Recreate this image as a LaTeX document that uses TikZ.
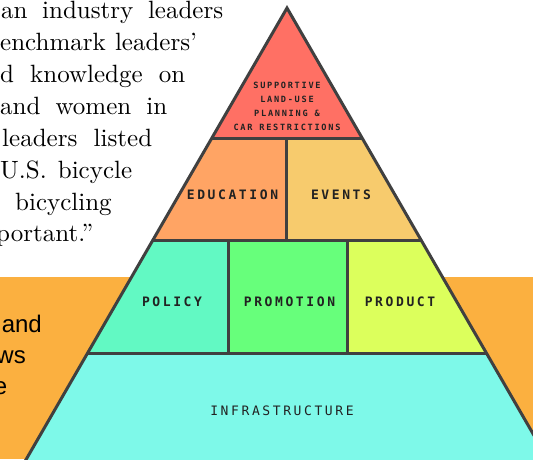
\documentclass[tikz,border=0pt]{standalone}
\usepackage{fontspec}
\usepackage{tikz}
\setsansfont{Liberation Sans}
\newfontfamily\quotefont{lmroman10-regular}[Extension=.otf]
\newfontfamily\tiermono[LetterSpace=20]{DejaVu Sans Mono}
\definecolor{bgorange}{HTML}{FBB040}
\definecolor{toptier}{HTML}{FF7064}
\definecolor{eduorange}{HTML}{FFA464}
\definecolor{eventyellow}{HTML}{F7CB6D}
\definecolor{policygreen}{HTML}{62F9C3}
\definecolor{promogreen}{HTML}{67FF7B}
\definecolor{productlime}{HTML}{DCFF5C}
\definecolor{infracyan}{HTML}{7EF9E9}
\definecolor{edgegray}{HTML}{404040}
\definecolor{labelgray}{HTML}{222222}

\begin{document}
\begin{tikzpicture}[x=1pt,y=-1pt]
    \tikzstyle{edge}=[draw=edgegray,line width=3pt,line join=miter]
    \tikzstyle{quote line}=[anchor=base west,inner sep=0pt,font=\quotefont\fontsize{25}{30}\selectfont]
    \tikzstyle{side line}=[anchor=base east,inner sep=0pt,font=\sffamily\fontsize{24}{28}\selectfont]
    \tikzstyle{tier label}=[inner sep=0pt,text=labelgray,font=\tiermono\bfseries\fontsize{13}{14}\selectfont]
    \tikzstyle{top label}=[tier label,align=center,font=\tiermono\bfseries\fontsize{8.6}{14}\selectfont]

\useasboundingbox (0,0) rectangle (533,459);
\clip (0,0) rectangle (533,459);
\fill[bgorange] (0,277) rectangle (533,459);

\coordinate (apex) at (287,8);
\coordinate (a1) at (211.9,138); \coordinate (b1) at (362.1,138);
\coordinate (a2) at (152.9,240); \coordinate (b2) at (421.1,240);
\coordinate (a3) at (87.6,353);  \coordinate (b3) at (486.4,353);
\coordinate (a4) at (22.9,465);  \coordinate (b4) at (551.1,465);
\coordinate (m1) at (286.5,138); \coordinate (m2) at (286.5,240);
\coordinate (p1) at (228,240);   \coordinate (p2) at (228,353);
\coordinate (r1) at (347,240);   \coordinate (r2) at (347,353);

\fill[toptier] (apex) -- (b1) -- (a1) -- cycle;
\fill[eduorange] (a1) -- (m1) -- (m2) -- (a2) -- cycle;
\fill[eventyellow] (m1) -- (b1) -- (b2) -- (m2) -- cycle;
\fill[policygreen] (a2) -- (p1) -- (p2) -- (a3) -- cycle;
\fill[promogreen] (p1) -- (r1) -- (r2) -- (p2) -- cycle;
\fill[productlime] (r1) -- (b2) -- (b3) -- (r2) -- cycle;
\fill[infracyan] (a3) -- (b3) -- (b4) -- (a4) -- cycle;

\draw[edge] (a1) -- (b1) (a2) -- (b2) (a3) -- (b3);
\draw[edge] (m1) -- (m2) (p1) -- (p2) (r1) -- (r2);
\draw[edge] (a4) -- (apex) -- (b4);

\node[top label] (landuse) at (287,106) {SUPPORTIVE\\LAND-USE\\PLANNING \&\\CAR RESTRICTIONS};
\node[tier label] (education) at (232.5,195) {EDUCATION};
\node[tier label] (events) at (341,195) {EVENTS};
\node[tier label] (policy) at (172,302) {POLICY};
\node[tier label] (promotion) at (289.5,302) {PROMOTION};
\node[tier label] (product) at (400,302) {PRODUCT};
\node[tier label,font=\tiermono\fontsize{13}{14}\selectfont] (infrastructure) at (282,411) {INFRASTRUCTURE};

\node[quote line] (line1) at (1,18) {\makebox[222pt][s]{an industry leaders}};
\node[quote line] (line2) at (0,50) {\makebox[197pt][s]{enchmark leaders’}};
\node[quote line] (line3) at (0,82) {\makebox[185pt][s]{d knowledge on}};
\node[quote line] (line4) at (0,114) {\makebox[167pt][s]{and women in}};
\node[quote line] (line5) at (2,146) {\makebox[150pt][s]{leaders listed}};
\node[quote line] (line6) at (0,178) {\makebox[132pt][s]{U.S. bicycle}};
\node[quote line] (line7) at (15,210) {bicycling};
\node[quote line] (line8) at (-4,241) {portant.”};

\node[side line] (and) at (42,332.5) {and};
\node[side line] (ws) at (26,363.5) {ws};
\node[side line] (e) at (7.5,394.5) {e};
\end{tikzpicture}
\end{document}
